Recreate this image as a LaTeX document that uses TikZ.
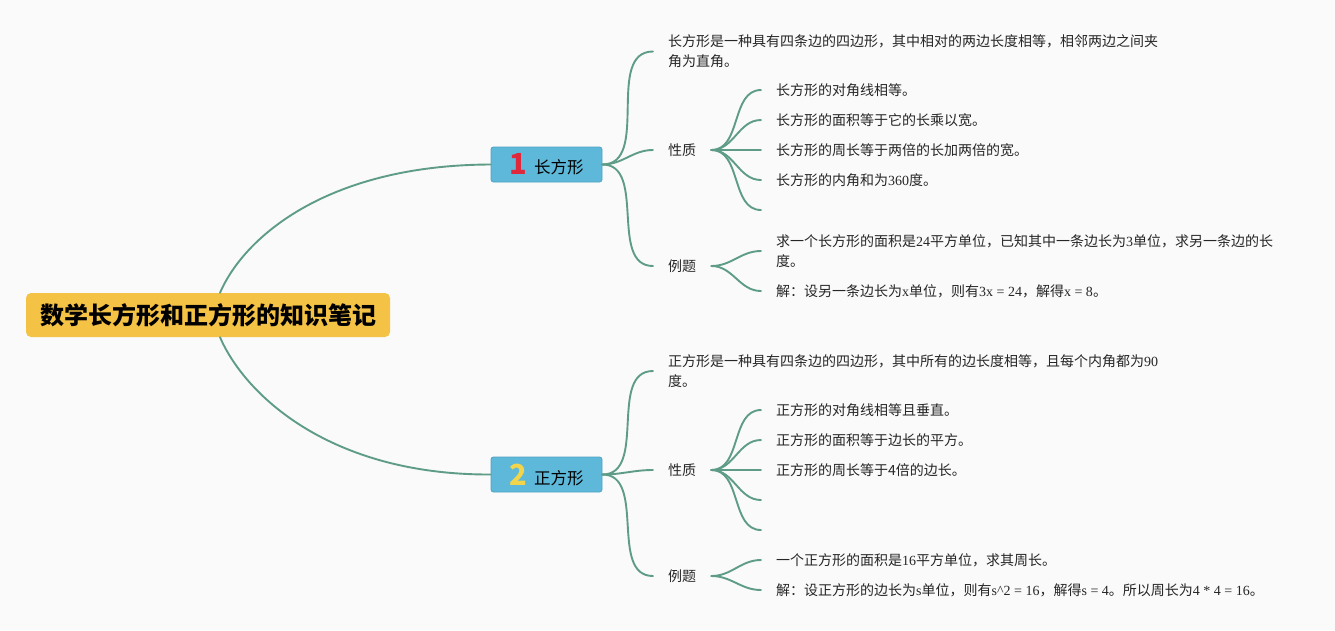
\documentclass[tikz,border=0pt]{standalone}
\usepackage{fontspec}
\newfontfamily\cjk{Noto Sans CJK SC}
\newfontfamily\ser{Liberation Serif}
\usetikzlibrary{calc}
\definecolor{bgc}{HTML}{FAFAFA}
\definecolor{rootc}{HTML}{F4C244}
\definecolor{subc}{HTML}{5DB8DA}
\definecolor{subd}{HTML}{4FA2C2}
\definecolor{linec}{HTML}{5E9C88}
\definecolor{numred}{HTML}{E0283C}
\definecolor{numyel}{HTML}{F3D54C}
\definecolor{txtc}{HTML}{262626}
\tikzset{
  rootbox/.style={fill=rootc, rounded corners=5pt, minimum width=364pt, minimum height=44pt, inner sep=0pt, font=\cjk\fontsize{24}{28}\selectfont\bfseries, text=black},
  subbox/.style={fill=subc, draw=subd, line width=0.8pt, rounded corners=2.5pt, minimum width=111pt, minimum height=35pt, inner sep=0pt, font=\cjk, text=black},
  leaf/.style={anchor=west, inner xsep=15pt, inner ysep=0pt, align=left, font=\cjk\fontsize{14}{20}\selectfont, text=txtc},
  conn/.style={draw=linec, line width=1.9pt, line cap=round},
}
\begin{document}
\begin{tikzpicture}[x=1pt, y=-1pt]
\fill[bgc] (0,0) rectangle (1335,630);
\useasboundingbox (0,0) rectangle (1335,630);

% root
\node[rootbox] (root) at (208,315) {数学长方形和正方形的知识笔记};

% main topics
\node[subbox] (n1) at (546.5,164.5) {\raisebox{-1pt}{\color{numred}\fontsize{29}{29}\selectfont\bfseries 1}\hspace{7pt}{\fontsize{16.5}{20}\selectfont 长方形}};
\node[subbox] (n2) at (546.5,474.5) {\raisebox{-1pt}{\color{numyel}\fontsize{29}{29}\selectfont\bfseries 2}\hspace{7pt}{\fontsize{16.5}{20}\selectfont 正方形}};

\draw[conn] ([xshift=12pt]root.north) .. controls (245,235) and (330,165) .. (n1.west);
\draw[conn] ([xshift=12pt]root.south) .. controls (245,395) and (330,475) .. (n2.west);

% ---- branch 1
\node[leaf] (d1) at (653,51.5) {长方形是一种具有四条边的四边形，其中相对的两边长度相等，相邻两边之间夹\\角为直角。};
\node[leaf] (p1) at (653,150) {性质};
\node[leaf] (e1) at (653,266) {例题};
\draw[conn] (n1.east) to[out=0,in=180] (d1.west);
\draw[conn] (n1.east) to[out=0,in=180] (p1.west);
\draw[conn] (n1.east) to[out=0,in=180] (e1.west);

\node[leaf] (p1a) at (761,90) {长方形的对角线相等。};
\node[leaf] (p1b) at (761,120) {长方形的面积等于它的长乘以宽。};
\node[leaf] (p1c) at (761,150) {长方形的周长等于两倍的长加两倍的宽。};
\node[leaf] (p1d) at (761,180) {长方形的内角和为{\ser 360}度。};
\coordinate (p1e) at (761,210);
\foreach \c in {p1a,p1b,p1c,p1d} \draw[conn] (p1.east) to[out=0,in=180] (\c.west);
\draw[conn] (p1.east) to[out=0,in=180] (p1e);

\node[leaf] (e1a) at (761,251) {求一个长方形的面积是{\ser 24}平方单位，已知其中一条边长为{\ser 3}单位，求另一条边的长\\度。};
\node[leaf] (e1b) at (761,291) {解：设另一条边长为{\ser x}单位，则有{\ser 3x = 24}，解得{\ser x = 8}。};
\draw[conn] (e1.east) to[out=0,in=180] (e1a.west);
\draw[conn] (e1.east) to[out=0,in=180] (e1b.west);

% ---- branch 2
\node[leaf] (d2) at (653,371) {正方形是一种具有四条边的四边形，其中所有的边长度相等，且每个内角都为{\ser 90}\\度。};
\node[leaf] (p2) at (653,470) {性质};
\node[leaf] (e2) at (653,576) {例题};
\draw[conn] (n2.east) to[out=0,in=180] (d2.west);
\draw[conn] (n2.east) to[out=0,in=180] (p2.west);
\draw[conn] (n2.east) to[out=0,in=180] (e2.west);

\node[leaf] (p2a) at (761,410) {正方形的对角线相等且垂直。};
\node[leaf] (p2b) at (761,440) {正方形的面积等于边长的平方。};
\node[leaf] (p2c) at (761,470) {正方形的周长等于4倍的边长。};
\coordinate (p2d) at (761,500);
\coordinate (p2e) at (761,530);
\foreach \c in {p2a,p2b,p2c} \draw[conn] (p2.east) to[out=0,in=180] (\c.west);
\draw[conn] (p2.east) to[out=0,in=180] (p2d);
\draw[conn] (p2.east) to[out=0,in=180] (p2e);

\node[leaf] (e2a) at (761,560) {一个正方形的面积是{\ser 16}平方单位，求其周长。};
\node[leaf] (e2b) at (761,590) {解：设正方形的边长为{\ser s}单位，则有{\ser s\textasciicircum 2 = 16}，解得{\ser s = 4}。所以周长为{\ser 4 * 4 = 16}。};
\draw[conn] (e2.east) to[out=0,in=180] (e2a.west);
\draw[conn] (e2.east) to[out=0,in=180] (e2b.west);
\end{tikzpicture}
\end{document}
